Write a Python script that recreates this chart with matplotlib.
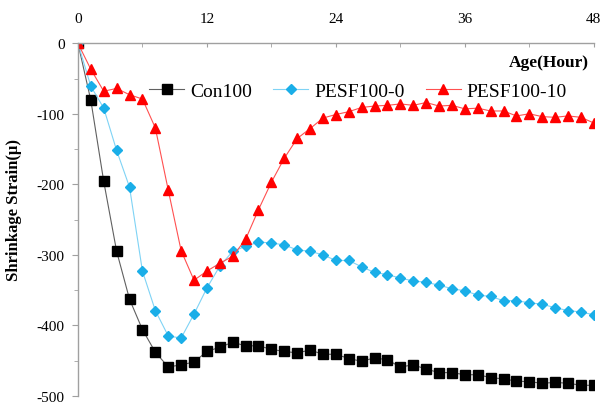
import numpy as np
import matplotlib
matplotlib.use("Agg")
import matplotlib.pyplot as plt
from matplotlib.ticker import MultipleLocator

# sampling every 1.2 h, 0..48 h
hours = [0.0, 1.2, 2.4, 3.6, 4.8, 6.0, 7.2, 8.4, 9.6, 10.8, 12.0, 13.2, 14.4, 15.6,
         16.8, 18.0, 19.2, 20.4, 21.6, 22.8, 24.0, 25.2, 26.4, 27.6, 28.8, 30.0,
         31.2, 32.4, 33.6, 34.8, 36.0, 37.2, 38.4, 39.6, 40.8, 42.0, 43.2, 44.4,
         45.6, 46.8, 48.0]

con100 = [0, -81, -196, -295, -363, -406, -438, -459, -456, -452, -437, -431, -424,
          -429, -429, -434, -437, -439, -435, -441, -441, -447, -451, -446, -449,
          -459, -456, -462, -467, -467, -470, -470, -474, -476, -479, -480, -482,
          -481, -482, -485, -485]

pesf100_0 = [0, -61, -92, -152, -204, -323, -379, -415, -418, -384, -347, -316, -295,
             -288, -282, -283, -286, -293, -295, -300, -308, -308, -317, -325, -328,
             -333, -337, -339, -343, -348, -351, -357, -359, -365, -365, -368, -370,
             -375, -379, -381, -385]

pesf100_10 = [0, -37, -68, -64, -73, -79, -120, -208, -294, -336, -323, -312, -302,
              -278, -236, -197, -163, -135, -121, -106, -101, -97, -91, -89, -88,
              -86, -88, -84, -89, -88, -93, -92, -96, -96, -103, -100, -104, -105,
              -103, -105, -113]

x_ticks = [0, 12, 24, 36, 48]
y_ticks = [0, -100, -200, -300, -400, -500]

plt.rcParams['font.family'] = ['Liberation Serif', 'DejaVu Serif']
plt.rcParams['axes.unicode_minus'] = False

fig = plt.figure(figsize=(6.09, 4.10), dpi=100)
ax = fig.add_axes([0.128, 0.032, 0.847, 0.860])

ax.plot(hours, con100, color='#606060', linewidth=0.8, marker='s', markersize=6.5,
        markerfacecolor='black', markeredgecolor='black', label='Con100')
ax.plot(hours, pesf100_0, color='#7fd3f5', linewidth=0.8, marker='D', markersize=5.5,
        markerfacecolor='#1aaee8', markeredgecolor='#1aaee8', label='PESF100-0')
ax.plot(hours, pesf100_10, color='#ff5050', linewidth=0.8, marker='^', markersize=7.5,
        markerfacecolor='#ff0000', markeredgecolor='#ff0000', label='PESF100-10')

ax.set_xlim(0, 48)
ax.set_ylim(-500, 0)
ax.set_xticks(x_ticks)
ax.set_yticks(y_ticks)
ax.xaxis.set_minor_locator(MultipleLocator(6))
ax.yaxis.set_minor_locator(MultipleLocator(50))

ax.xaxis.tick_top()
ax.spines['bottom'].set_visible(False)
ax.spines['right'].set_visible(False)
for s in ('top', 'left'):
    ax.spines[s].set_color('#a0a0a0')
    ax.spines[s].set_linewidth(1.0)

ax.tick_params(axis='x', which='both', direction='in', length=3, color='#a0a0a0',
               labelsize=11, pad=13)
ax.tick_params(axis='y', which='major', direction='out', length=4.5, color='#a0a0a0',
               labelsize=11, pad=5)
ax.tick_params(axis='y', which='minor', direction='out', length=3, color='#a0a0a0')

ax.set_ylabel('Shrinkage Strain(\u03bc)', fontsize=12, fontweight='bold')
ax.yaxis.set_label_coords(-0.108, 0.53)
ax.text(0.99, 0.947, 'Age(Hour)', transform=ax.transAxes, ha='right', va='center',
        fontsize=12.5, fontweight='bold')

ax.legend(loc='center', bbox_to_anchor=(0.588, 0.775), bbox_transform=fig.transFigure,
          ncol=3, frameon=False, fontsize=14, handlelength=1.8, handletextpad=0.3,
          columnspacing=1.1)

fig.savefig('out.png', dpi=100)
